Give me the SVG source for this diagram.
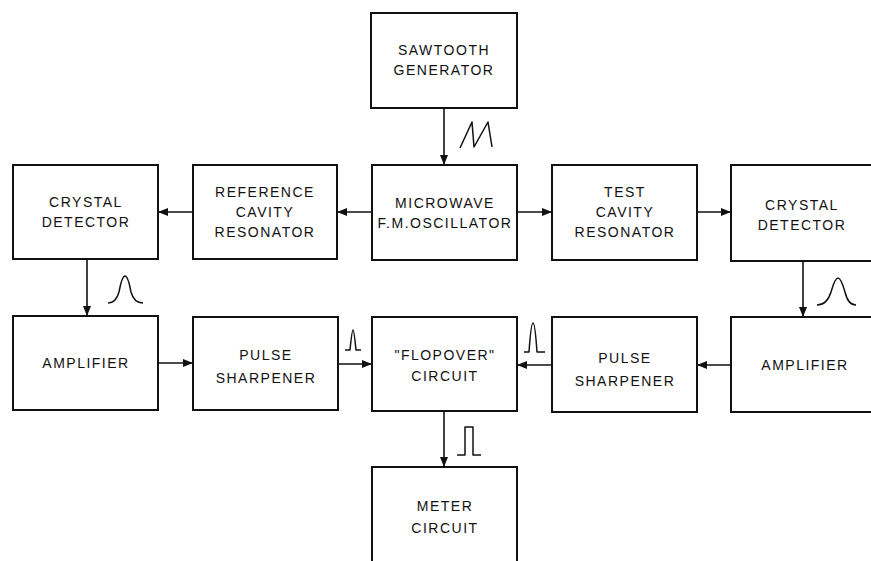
<svg xmlns="http://www.w3.org/2000/svg" width="871" height="561" viewBox="0 0 871 561">
<defs>
<marker id="ah" viewBox="0 0 10 8" refX="10" refY="4" markerWidth="10" markerHeight="8" markerUnits="userSpaceOnUse" orient="auto">
<path d="M0,0 L10,4 L0,8 Z" fill="#111"/>
</marker>
</defs>
<style>
.box{fill:#fff;stroke:#111;stroke-width:2}
.t{font-family:"Liberation Sans",Arial,sans-serif;font-size:14px;letter-spacing:1.5px;fill:#111;text-anchor:middle}
.c{stroke:#111;stroke-width:1.6;fill:none;marker-end:url(#ah)}
.w{stroke:#111;stroke-width:1.5;fill:none;stroke-linejoin:round}
</style>
<rect width="871" height="561" fill="#fff"/>
<g id="sawtooth">
<rect class="box" x="371" y="13" width="146" height="95"/>
<text class="t" x="444" y="55">SAWTOOTH</text>
<text class="t" x="444" y="75">GENERATOR</text>
</g>
<g id="crystal-left">
<rect class="box" x="13" y="165" width="145" height="94"/>
<text class="t" x="86" y="207">CRYSTAL</text>
<text class="t" x="86" y="227">DETECTOR</text>
</g>
<g id="ref-cavity">
<rect class="box" x="193" y="165" width="144" height="94"/>
<text class="t" x="265" y="197">REFERENCE</text>
<text class="t" x="265" y="217">CAVITY</text>
<text class="t" x="265" y="237">RESONATOR</text>
</g>
<g id="microwave">
<rect class="box" x="372" y="165" width="145" height="95"/>
<text class="t" x="445" y="208">MICROWAVE</text>
<text class="t" x="445" y="228">F.M.OSCILLATOR</text>
</g>
<g id="test-cavity">
<rect class="box" x="552" y="165" width="145" height="95"/>
<text class="t" x="625" y="197">TEST</text>
<text class="t" x="625" y="217">CAVITY</text>
<text class="t" x="625" y="237">RESONATOR</text>
</g>
<g id="crystal-right">
<rect class="box" x="731" y="165" width="160" height="96"/>
<text class="t" x="802" y="210">CRYSTAL</text>
<text class="t" x="802" y="230">DETECTOR</text>
</g>
<g id="amp-left">
<rect class="box" x="13" y="316" width="145" height="94"/>
<text class="t" x="86" y="368">AMPLIFIER</text>
</g>
<g id="ps-left">
<rect class="box" x="193" y="317" width="145" height="93"/>
<text class="t" x="266" y="360">PULSE</text>
<text class="t" x="266" y="383">SHARPENER</text>
</g>
<g id="flopover">
<rect class="box" x="372" y="317" width="145" height="94"/>
<text class="t" x="445" y="360">"FLOPOVER"</text>
<text class="t" x="445" y="381">CIRCUIT</text>
</g>
<g id="ps-right">
<rect class="box" x="552" y="317" width="145" height="95"/>
<text class="t" x="625" y="363">PULSE</text>
<text class="t" x="625" y="386">SHARPENER</text>
</g>
<g id="amp-right">
<rect class="box" x="731" y="317" width="160" height="95"/>
<text class="t" x="805" y="370">AMPLIFIER</text>
</g>
<g id="meter">
<rect class="box" x="372" y="467" width="145" height="110"/>
<text class="t" x="445" y="511">METER</text>
<text class="t" x="445" y="533">CIRCUIT</text>
</g>
<g id="connectors">
<line class="c" x1="444" y1="108" x2="444" y2="165"/>
<line class="c" x1="372" y1="212" x2="337" y2="212"/>
<line class="c" x1="193" y1="212" x2="158" y2="212"/>
<line class="c" x1="517" y1="212" x2="552" y2="212"/>
<line class="c" x1="697" y1="212" x2="731" y2="212"/>
<line class="c" x1="87" y1="259" x2="87" y2="316"/>
<line class="c" x1="803" y1="261" x2="803" y2="317"/>
<line class="c" x1="158" y1="363" x2="193" y2="363"/>
<line class="c" x1="338" y1="364" x2="372" y2="364"/>
<line class="c" x1="552" y1="365" x2="517" y2="365"/>
<line class="c" x1="731" y1="365" x2="697" y2="365"/>
<line class="c" x1="444" y1="411" x2="444" y2="467"/>
</g>
<g id="waveforms">
<path class="w" d="M460,148 L472,122 L474,147 L488,122 L492,147"/>
<path class="w" d="M108,303 Q116,303 119,292 Q122,276 125,276 Q128,276 131,292 Q134,303 143,303"/>
<path class="w" d="M817,305 Q827,305 831,292 Q835,278 838,278 Q841,278 845,292 Q848,305 856,305"/>
<path class="w" d="M345,350 L350,350 Q352,330 353,330 Q354,330 356,350 L361,350"/>
<path class="w" d="M524,352 L529,352 Q531,323 533,323 Q535,323 537,352 L545,352"/>
<path class="w" d="M457,455 L465,455 L465,427 L473,427 L473,455 L481,455"/>
</g>
</svg>
